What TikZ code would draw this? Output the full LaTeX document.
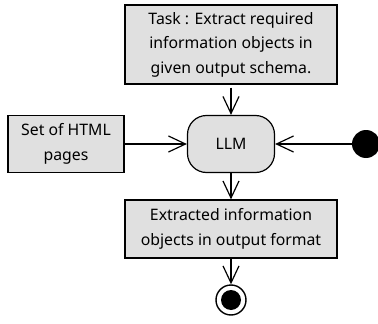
\documentclass[tikz,border=0pt]{standalone}
\usepackage{fontspec}
\setmainfont{Noto Sans}
\usetikzlibrary{positioning}
\usetikzlibrary{arrows.meta}

\tikzset{
  actbox/.style={draw, line width=1.2pt, fill=black!12, align=center, inner sep=0pt,
    font=\fontsize{15.8}{24.5}\selectfont},
  flow/.style={draw, line width=1.2pt, -{Straight Barb[length=17pt,width=16pt,line width=1.2pt]}},
}

\begin{document}
\begin{tikzpicture}[x=1pt,y=-1pt]
			\useasboundingbox (0,0) rectangle (378,324);
			\node at (231,44.5) (task) [actbox, minimum width=212pt, minimum height=79pt] {Task : Extract required\\information objects in\\given output schema.} ;
			\node at (231,144) (llm) [actbox, rounded corners=19pt, minimum width=87pt, minimum height=57pt] {LLM} ;
			\node at (66,144) (html) [actbox, minimum width=116pt, minimum height=57pt] {Set of HTML\\pages} ;
			\node at (366,144) (start) [circle, fill=black, inner sep=0pt, minimum size=28pt] {} ;
			\node at (231,229) (result) [actbox, minimum width=212pt, minimum height=58pt] {Extracted information\\objects in output format} ;
			\node at (231,300) (stop) [circle, draw, line width=1.4pt, fill=white, inner sep=0pt, minimum size=30pt] {} ;
			\fill (stop.center) circle (10pt);
			\draw [flow] ([yshift=-3pt]task.south) -- (llm.north);
			\draw [flow] (html.east) -- (llm.west);
			\draw [flow] (start.west) -- (llm.east);
			\draw [flow] (llm.south) -- (result.north);
			\draw [flow] (result.south) -- (stop.north);
\end{tikzpicture}
\end{document}
